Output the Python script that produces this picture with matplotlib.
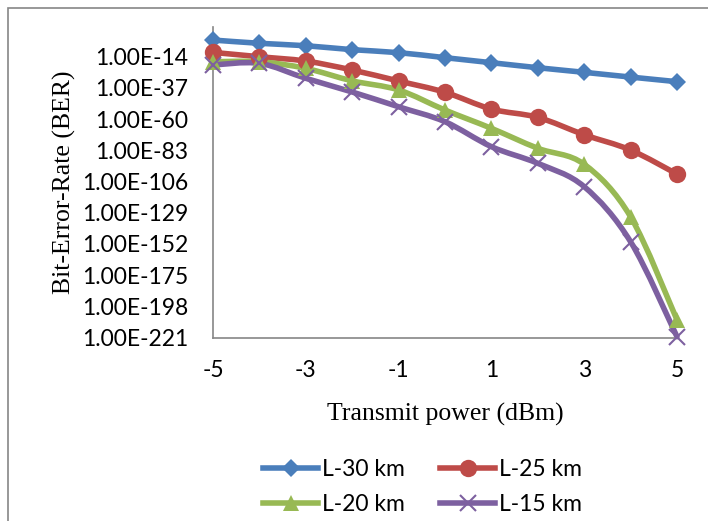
import numpy as np
import matplotlib.pyplot as plt
from matplotlib.path import Path
from matplotlib.patches import PathPatch, Rectangle
from matplotlib.lines import Line2D

power = [-5, -4, -3, -2, -1, 0, 1, 2, 3, 4, 5]

# log10(BER)
l30_exp = [-1.7, -4.1, -5.9, -8.8, -11.0, -14.7, -18.4, -22.1, -25.5, -29.0, -32.4]
l25_exp = [-10.8, -14.0, -17.2, -23.8, -31.9, -40.2, -52.6, -58.7, -71.5, -82.8, -100.5]
l20_exp = [-17.7, -17.7, -22.6, -31.8, -38.5, -53.3, -66.8, -81.5, -93.3, -132.0, -208.0]
l15_exp = [-20.1, -18.9, -29.9, -40.0, -50.9, -61.9, -80.3, -92.6, -109.8, -150.4, -220.4]

labels = ["L-30 km", "L-25 km", "L-20 km", "L-15 km"]
colors = ["#4A7EBB", "#BE4B48", "#98B954", "#7D60A0"]
markers = ["D", "o", "^", "x"]
msizes = [9, 12.5, 12, 12]

ytick_exp = [14, 37, 60, 83, 106, 129, 152, 175, 198, 221]
xticks = [-5, -3, -1, 1, 3, 5]

TICK_FONT = "Lato"
SERIF = "Liberation Serif"
GRAY = "#868686"
FS = 16.5


def smooth_path(x, ly):
    # Excel-style smoothed line: Catmull-Rom through points, as cubic Beziers
    pts = np.column_stack([x, ly]).astype(float)
    n = len(pts)
    verts = [pts[0]]
    codes = [Path.MOVETO]
    for i in range(n - 1):
        p0 = pts[max(i - 1, 0)]
        p1 = pts[i]
        p2 = pts[i + 1]
        p3 = pts[min(i + 2, n - 1)]
        verts += [p1 + (p2 - p0) / 6, p2 - (p3 - p1) / 6, p2]
        codes += [Path.CURVE4] * 3
    verts = np.array(verts)
    verts[:, 1] = 10.0 ** verts[:, 1]
    return Path(verts, codes)


fig = plt.figure(figsize=(7.08, 5.21), dpi=100)
ax = fig.add_axes([0.3008, 0.3522, 0.6554, 0.5962])
ax.set_yscale("log")

series = [l30_exp, l25_exp, l20_exp, l15_exp]
handles = []
for exp, lab, c, m, ms in zip(series, labels, colors, markers, msizes):
    path = smooth_path(power, exp)
    ax.add_patch(PathPatch(path, fill=False, edgecolor=c, lw=4,
                           transform=ax.transData, clip_on=False,
                           capstyle="round", joinstyle="round"))
    ber = 10.0 ** np.array(exp)
    mew = 1.5 if m == "x" else 0
    ax.plot(power, ber, linestyle="none", marker=m, ms=ms, color=c,
            mec=c, mew=mew, clip_on=False, zorder=3)
    handles.append(Line2D([], [], color=c, lw=4, marker=m, ms=ms,
                          mec=c, mew=mew))

ax.set_xlim(-5, 5)
ax.set_ylim(1e-221, 1e8)
ax.minorticks_off()
ax.set_yticks([10.0 ** -e for e in ytick_exp])
ax.set_yticklabels([f"1.00E-{e}" for e in ytick_exp], fontfamily=TICK_FONT, fontsize=FS)
ax.set_xticks(xticks)
ax.set_xticklabels([str(v) for v in xticks], fontfamily=TICK_FONT, fontsize=FS)
ax.tick_params(axis="both", length=0, colors="black")
ax.tick_params(axis="y", pad=18)
ax.tick_params(axis="x", pad=16)

for s in ["top", "right"]:
    ax.spines[s].set_visible(False)
for s in ["left", "bottom"]:
    ax.spines[s].set_color(GRAY)
    ax.spines[s].set_linewidth(1.2)

ax.set_xlabel("Transmit power (dBm)", fontfamily=SERIF, fontsize=18.5, labelpad=16)
ax.set_ylabel("Bit-Error-Rate (BER)", fontfamily=SERIF, fontsize=18.5, labelpad=4)

# legend: two rows, row-wise order
order = [0, 2, 1, 3]
fig.legend([handles[i] for i in order], [labels[i] for i in order],
           ncol=2, loc="center", bbox_to_anchor=(422.5 / 708, 1 - 487 / 521),
           frameon=False, prop={"family": TICK_FONT, "size": FS},
           handlelength=2.4, handletextpad=0.15, columnspacing=1.55,
           labelspacing=0.62)

# chart area border (cropped at right and bottom)
fig.patches.append(Rectangle((8 / 708, -0.5), 2, 1.5 - 8 / 521, fill=False,
                             edgecolor=GRAY, lw=1.2, transform=fig.transFigure))

fig.savefig("out.png", dpi=100)
